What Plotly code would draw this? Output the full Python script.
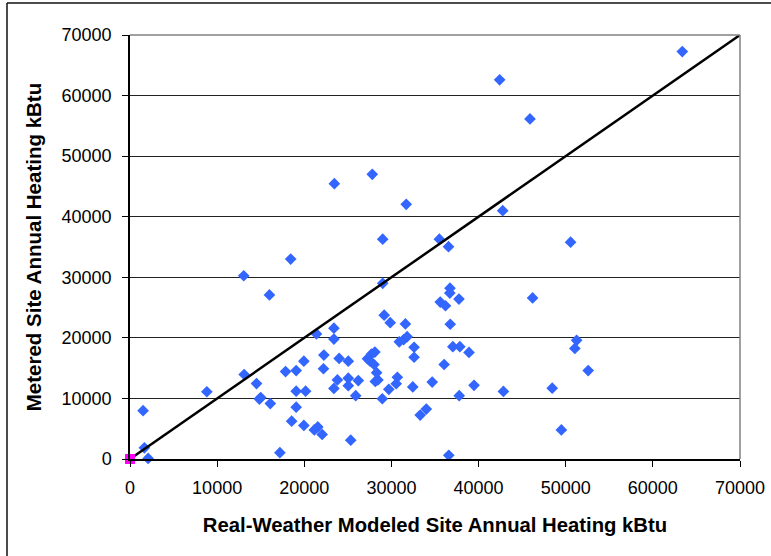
import plotly.graph_objects as go

# Real-weather modeled site annual heating (kBtu)
modeled = [
    63380, 42420, 45900, 27800, 23450, 31700, 42770, 29000, 35500, 36550,
    50560, 18440, 13050, 16000, 29000, 36720, 36700, 37750, 35600, 36200,
    46200, 29170, 29860, 31600, 36750, 23400, 21400, 23400, 30900, 31400,
    31800, 51250, 51050, 32600, 32600, 37050, 37850, 38900, 52580, 22250,
    24000, 25050, 19950, 27250, 27700, 28100, 27550, 28000, 17850, 19070,
    22200, 13100, 14520, 23800, 25050, 25050, 23400, 26200, 28150, 28450,
    28300, 30680, 30550, 32450, 29700, 34680, 39480, 42850, 48450, 8820,
    19070, 20150, 15000, 14850, 16100, 25900, 28950, 37780, 19070, 34000,
    33300, 18550, 19950, 21150, 21550, 22050, 25330, 49500, 17200, 36580,
    1500, 1650, 2080, 36050,
]
# Metered site annual heating (kBtu)
metered = [
    67260, 62600, 56150, 47000, 45450, 42050, 41000, 36300, 36300, 35050,
    35800, 33000, 30250, 27080, 29000, 28200, 27400, 26400, 25900, 25300,
    26600, 23750, 22500, 22300, 22250, 21600, 20650, 19800, 19350, 19700,
    20200, 19600, 18250, 18450, 16800, 18550, 18550, 17600, 14600, 17150,
    16600, 16150, 16150, 16550, 17300, 17650, 16150, 15600, 14430, 14600,
    14900, 13950, 12450, 13050, 13350, 12100, 11650, 12950, 12800, 13050,
    14250, 13500, 12420, 11900, 11500, 12700, 12160, 11150, 11700, 11100,
    11200, 11200, 10150, 9900, 9150, 10450, 9950, 10450, 8550, 8250,
    7250, 6250, 5550, 4800, 5300, 4050, 3100, 4800, 1050, 600,
    7980, 1850, 100, 15600,
]
# 1:1 reference line
line_x = [0, 70000]
line_y = [0, 70000]
# origin marker
origin_x = [0]
origin_y = [0]

tick_vals = [0, 10000, 20000, 30000, 40000, 50000, 60000, 70000]
tick_text = [str(v) for v in tick_vals]

FONT = "Liberation Sans, Arial, sans-serif"

fig = go.Figure()
fig.add_trace(go.Scatter(
    x=modeled, y=metered, mode="markers",
    marker=dict(symbol="diamond", size=9, color="#3366FF", line=dict(width=0)),
    showlegend=False, cliponaxis=False,
))
fig.add_trace(go.Scatter(
    x=line_x, y=line_y, mode="lines",
    line=dict(color="black", width=2.5), showlegend=False,
))
fig.add_trace(go.Scatter(
    x=origin_x, y=origin_y, mode="markers",
    marker=dict(symbol="square", size=10, color="#FF00FF", line=dict(width=0)),
    showlegend=False, cliponaxis=False,
))

L, R, T, B = 130, 31, 35, 97
W, H = 771, 556
pw, ph = W - L - R, H - T - B

def px_x(p):
    return (p - L) / pw

def px_y(p):
    return (H - B - p) / ph

shapes = [
    # plot-area grey border top and right
    dict(type="line", xref="paper", yref="paper", x0=0, x1=1, y0=1, y1=1,
         line=dict(color="#808080", width=1.5)),
    dict(type="line", xref="paper", yref="paper", x0=1, x1=1, y0=0, y1=1,
         line=dict(color="#808080", width=1.5)),
    # outer chart border (left and top)
    dict(type="line", xref="paper", yref="paper", x0=px_x(7), x1=px_x(7),
         y0=px_y(3), y1=px_y(620), line=dict(color="#111", width=1.5)),
    dict(type="line", xref="paper", yref="paper", x0=px_x(7), x1=px_x(800),
         y0=px_y(3), y1=px_y(3), line=dict(color="#111", width=1.5)),
]

fig.update_layout(
    width=W, height=H,
    margin=dict(l=L, r=R, t=T, b=B),
    paper_bgcolor="white", plot_bgcolor="white",
    font=dict(family=FONT, size=18, color="black"),
    shapes=shapes,
    xaxis=dict(
        range=[0, 70000], tickvals=tick_vals, ticktext=tick_text,
        showgrid=False, zeroline=False, automargin=False,
        showline=True, linecolor="black", linewidth=1.5,
        ticks="outside", ticklen=6, tickcolor="black", tickwidth=1,
        ticklabelstandoff=6,
        tickfont=dict(family=FONT, size=18),
        title=dict(text="<b>Real-Weather Modeled Site Annual Heating kBtu</b>",
                   font=dict(family=FONT, size=20.3), standoff=20),
    ),
    yaxis=dict(
        range=[0, 70000], tickvals=tick_vals, ticktext=tick_text,
        showgrid=True, gridcolor="#222", gridwidth=1, zeroline=False,
        automargin=False,
        showline=True, linecolor="black", linewidth=1.5,
        ticks="outside", ticklen=6, tickcolor="black", tickwidth=1,
        ticklabelstandoff=7,
        tickfont=dict(family=FONT, size=18),
        title=dict(text="<b>Metered Site Annual Heating kBtu</b>",
                   font=dict(family=FONT, size=20.5), standoff=14),
    ),
)

fig.write_html("out.html")
